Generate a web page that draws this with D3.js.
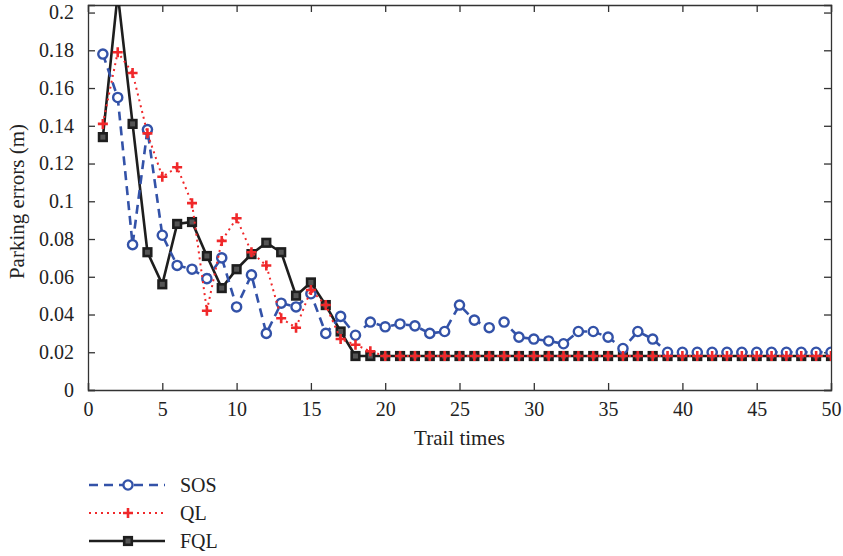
<!DOCTYPE html>
<html>
<head>
<meta charset="utf-8">
<script src="https://cdn.jsdelivr.net/npm/d3@7"></script>
<style>
	body { margin: 0; background: #fff; }
	text { font-family: "Liberation Serif", "DejaVu Serif", serif; fill: #222; }
</style>
</head>
<body>
<div id="main"></div>
<script>

	// trial index 1..50
	var trials = d3.range(1, 51)

	var sos = [0.178, 0.155, 0.077, 0.138, 0.082, 0.066, 0.064, 0.059, 0.070, 0.044,
		0.061, 0.030, 0.046, 0.044, 0.051, 0.030, 0.039, 0.029, 0.036, 0.0335,
		0.035, 0.034, 0.030, 0.031, 0.045, 0.037, 0.033, 0.036, 0.028, 0.027,
		0.026, 0.0245, 0.031, 0.031, 0.028, 0.022, 0.031, 0.027, 0.020, 0.020,
		0.020, 0.020, 0.020, 0.020, 0.020, 0.020, 0.020, 0.020, 0.020, 0.020]

	var ql = [0.141, 0.179, 0.168, 0.136, 0.113, 0.118, 0.099, 0.042, 0.079, 0.091,
		0.073, 0.066, 0.038, 0.033, 0.053, 0.045, 0.027, 0.024, 0.0205, 0.018,
		0.018, 0.018, 0.018, 0.018, 0.018, 0.018, 0.018, 0.018, 0.018, 0.018,
		0.018, 0.018, 0.018, 0.018, 0.018, 0.018, 0.018, 0.018, 0.018, 0.018,
		0.018, 0.018, 0.018, 0.018, 0.018, 0.018, 0.018, 0.018, 0.018, 0.018]

	var fql = [0.134, 0.21, 0.141, 0.073, 0.056, 0.088, 0.089, 0.071, 0.054, 0.064,
		0.072, 0.078, 0.073, 0.050, 0.057, 0.045, 0.031, 0.018, 0.018, 0.018,
		0.018, 0.018, 0.018, 0.018, 0.018, 0.018, 0.018, 0.018, 0.018, 0.018,
		0.018, 0.018, 0.018, 0.018, 0.018, 0.018, 0.018, 0.018, 0.018, 0.018,
		0.018, 0.018, 0.018, 0.018, 0.018, 0.018, 0.018, 0.018, 0.018, 0.018]

	var xTicks = [0, 5, 10, 15, 20, 25, 30, 35, 40, 45, 50]
	var yTicks = [0, 0.02, 0.04, 0.06, 0.08, 0.1, 0.12, 0.14, 0.16, 0.18, 0.2]
	var yTickLabels = ["0", "0.02", "0.04", "0.06", "0.08", "0.1", "0.12", "0.14", "0.16", "0.18", "0.2"]
	var legendNames = ["SOS", "QL", "FQL"]

	var margin = { top: 5, left: 88, right: 12, bottom: 166 },
		W = 843, H = 556,
		w = W - margin.left - margin.right,
		h = H - margin.top - margin.bottom

	var svg = d3.select("#main")
		.append("svg")
		.attr("width", W)
		.attr("height", H)

	var g = svg.append("g")
		.attr("transform", "translate(" + margin.left + "," + margin.top + ")")

	var x = d3.scaleLinear().domain([0, 50]).range([0, w])
	var y = d3.scaleLinear().domain([0, 0.204]).range([h, 0])

	// clip so the FQL spike is cut at the top border
	g.append("clipPath").attr("id", "plotclip")
		.append("rect").attr("width", w).attr("height", h)

	var tickLen = 7

	// bottom axis
	g.append("g")
		.attr("transform", "translate(0," + h + ")")
		.call(d3.axisBottom(x).tickValues(xTicks).tickSize(-tickLen).tickPadding(12).tickFormat(d3.format("d")))
	// top ticks
	g.append("g")
		.call(d3.axisTop(x).tickValues(xTicks).tickSize(-tickLen).tickFormat(""))
	// left axis
	g.append("g")
		.call(d3.axisLeft(y).tickValues(yTicks).tickSize(-tickLen).tickPadding(14)
			.tickFormat(function(d, i) { return yTickLabels[i] }))
	// right ticks
	g.append("g")
		.attr("transform", "translate(" + w + ",0)")
		.call(d3.axisRight(y).tickValues(yTicks).tickSize(-tickLen).tickFormat(""))

	g.selectAll(".domain").attr("stroke", "#333").attr("stroke-width", 1.3)
	g.selectAll(".tick line").attr("stroke", "#333").attr("stroke-width", 1.3)
	g.selectAll(".tick text").style("font-size", "20px").style("font-family", "Liberation Serif, serif").attr("fill", "#222")

	// axis labels
	g.append("text")
		.attr("x", w / 2)
		.attr("y", h + 55)
		.attr("text-anchor", "middle")
		.style("font-size", "21px")
		.text("Trail times")

	g.append("text")
		.attr("transform", "translate(" + (24 - margin.left) + "," + (h / 2 + 4) + ") rotate(-90)")
		.attr("text-anchor", "middle")
		.style("font-size", "21px")
		.text("Parking errors (m)")

	var plot = g.append("g").attr("clip-path", "url(#plotclip)")

	function lineOf(vals) {
		return d3.line()
			.x(function(d, i) { return x(trials[i]) })
			.y(function(d) { return y(d) })(vals)
	}

	var blue = "#3352a8", red = "#f0282a", black = "#1e1e1e"

	// marker painters
	function square(sel) {
		sel.append("rect")
			.attr("x", -3.8).attr("y", -3.8).attr("width", 7.6).attr("height", 7.6)
			.attr("fill", "#555").attr("stroke", black).attr("stroke-width", 2.6)
	}
	function circle(sel) {
		sel.append("circle").attr("r", 4.6)
			.attr("fill", "#fff").attr("stroke", blue).attr("stroke-width", 2.4)
	}
	function plus(sel) {
		sel.append("path").attr("d", "M-5,0H5M0,-5V5")
			.attr("stroke", red).attr("stroke-width", 2.6)
	}

	var series = [
		{ vals: fql, color: black, dash: null, width: 2.6, mark: square },
		{ vals: sos, color: blue, dash: "9,6", width: 2.6, mark: circle },
		{ vals: ql, color: red, dash: "2,4", width: 2, mark: plus }
	]

	series.forEach(function(s) {
		plot.append("path")
			.attr("d", lineOf(s.vals))
			.attr("fill", "none")
			.attr("stroke", s.color)
			.attr("stroke-width", s.width)
			.attr("stroke-dasharray", s.dash)

		plot.selectAll(null)
			.data(s.vals)
			.enter()
			.append("g")
			.attr("transform", function(d, i) { return "translate(" + x(trials[i]) + "," + y(d) + ")" })
			.call(s.mark)
	})

	// legend
	var legendSeries = [series[1], series[2], series[0]]
	var leg = svg.append("g").attr("transform", "translate(89,485)")
	legendSeries.forEach(function(s, i) {
		var row = leg.append("g").attr("transform", "translate(0," + (i * 28) + ")")
		row.append("line")
			.attr("x1", 0).attr("x2", 76)
			.attr("stroke", s.color)
			.attr("stroke-width", s.width)
			.attr("stroke-dasharray", s.dash)
		row.append("g").attr("transform", "translate(39,0)").call(s.mark)
		row.append("text")
			.attr("x", 91).attr("y", 7)
			.style("font-size", "20px")
			.text(legendNames[i])
	})

</script>
</body>
</html>
